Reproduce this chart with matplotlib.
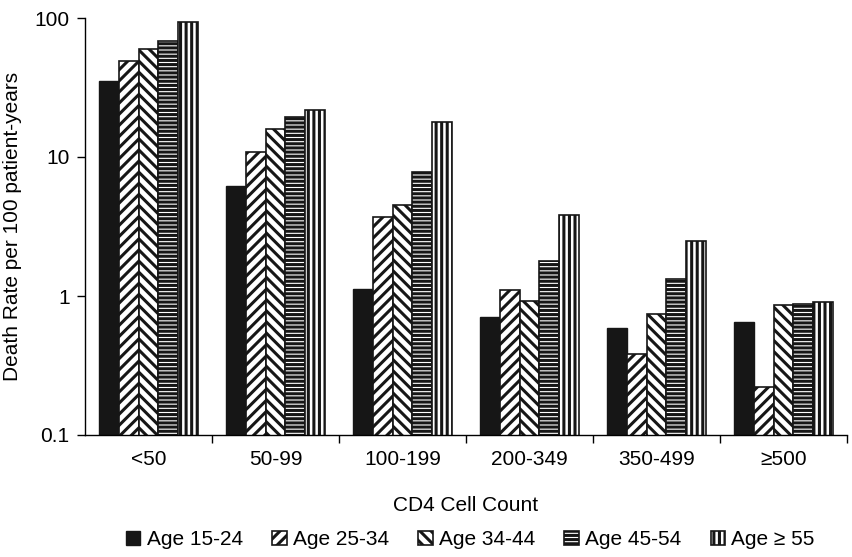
import numpy as np
import matplotlib.pyplot as plt

plt.rcParams['font.family'] = ['Liberation Sans', 'DejaVu Sans']
plt.rcParams['hatch.linewidth'] = 2.2

# CD4 groups and death rates per 100 patient-years
categories = ['<50', '50-99', '100-199', '200-349', '350-499', '≥500']
age_15_24 = [35.5, 6.2, 1.12, 0.71, 0.59, 0.65]
age_25_34 = [49, 10.9, 3.7, 1.1, 0.38, 0.22]
age_34_44 = [60, 15.9, 4.5, 0.92, 0.74, 0.86]
age_45_54 = [68, 19.4, 7.8, 1.8, 1.32, 0.87]
age_55 = [94, 21.8, 17.8, 3.8, 2.5, 0.9]

series = [age_15_24, age_25_34, age_34_44, age_45_54, age_55]
labels = ['Age 15-24', 'Age 25-34', 'Age 34-44', 'Age 45-54', 'Age \u2265 55']
hatches = [None, '///', '\\\\\\', '----', '|||']

fs = 15
fig = plt.figure(figsize=(8.52, 5.57), dpi=100)
ax = fig.add_axes([85 / 852, 122 / 557, 762 / 852, 417 / 557])

x = np.arange(len(categories))
w = 0.156
for i, (vals, lab, h) in enumerate(zip(series, labels, hatches)):
    pos = x + (i - 2) * w
    if h is None:
        ax.bar(pos, vals, w, color='#161616', edgecolor='#161616', linewidth=1.0, label=lab)
    else:
        ax.bar(pos, vals, w, color='white', edgecolor='#161616', hatch=h, linewidth=1.2, label=lab)

ax.set_yscale('log')
ax.set_ylim(0.1, 100)
ax.set_yticks([0.1, 1, 10, 100])
ax.set_yticklabels(['0.1', '1', '10', '100'])
ax.yaxis.set_minor_locator(plt.NullLocator())
ax.set_xlim(-0.5, len(categories) - 0.5)
ax.set_xticks(x)
ax.set_xticklabels(categories)
ax.set_xticks(np.arange(len(categories)) + 0.5, minor=True)
ax.tick_params(axis='x', which='major', length=0, pad=11, labelsize=fs)
ax.tick_params(axis='x', which='minor', length=6, width=1, direction='out')
ax.tick_params(axis='y', length=6, width=1, labelsize=fs, pad=5)

for s in ['top', 'right']:
    ax.spines[s].set_visible(False)
for s in ['left', 'bottom']:
    ax.spines[s].set_linewidth(1.0)

ax.set_ylabel('Death Rate per 100 patient-years', fontsize=fs, labelpad=9)
ax.set_xlabel('CD4 Cell Count', fontsize=fs, labelpad=19)

fig.legend(loc='lower center', bbox_to_anchor=(0.552, -0.02), ncol=5, frameon=False,
           fontsize=fs, handlelength=0.7, handleheight=0.7, handletextpad=0.3,
           columnspacing=1.4)

fig.savefig('out.png', dpi=100)
